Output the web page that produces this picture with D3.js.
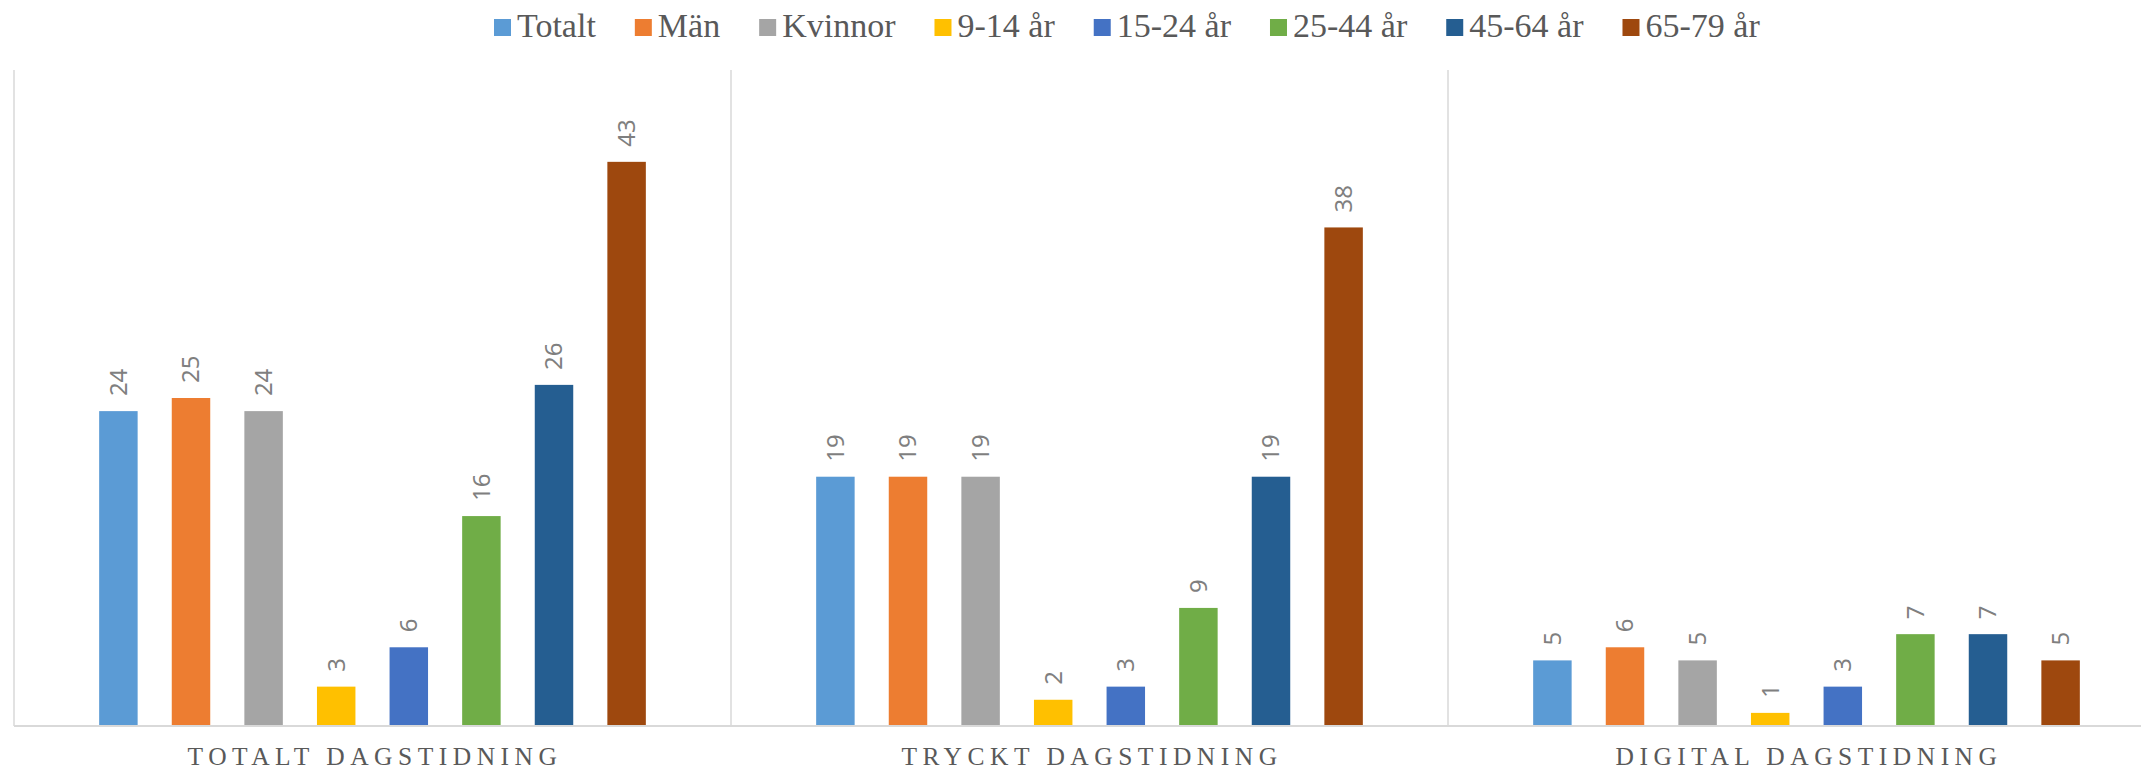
<!DOCTYPE html>
<html>
<head>
<meta charset="utf-8">
<script src="https://cdn.jsdelivr.net/npm/d3@7"></script>
<style>
  body { margin: 0; background: #fff; }
</style>
</head>
<body>
<div id="chart"></div>
<script>
// Chart data
const categories = ["TOTALT DAGSTIDNING", "TRYCKT DAGSTIDNING", "DIGITAL DAGSTIDNING"];
const seriesNames = ["Totalt", "Män", "Kvinnor", "9-14 år", "15-24 år", "25-44 år", "45-64 år", "65-79 år"];
const seriesColors = ["#5B9BD5", "#ED7D31", "#A5A5A5", "#FFC000", "#4472C4", "#70AD47", "#255E91", "#9E480E"];
const totaltValues = [24, 25, 24, 3, 6, 16, 26, 43];
const tryckValues = [19, 19, 19, 2, 3, 9, 19, 38];
const digitalValues = [5, 6, 5, 1, 3, 7, 7, 5];
const valuesByCategory = [totaltValues, tryckValues, digitalValues];

const width = 2141;
const height = 771;
const plot = { left: 14, right: 2165, top: 70, bottom: 726 };

const svg = d3.select("#chart")
    .append("svg")
    .attr("width", width)
    .attr("height", height)
    .style("display", "block");

const x0 = d3.scaleBand()
    .domain(categories)
    .range([plot.left, plot.right])
    .padding(0);

const x1 = d3.scaleBand()
    .domain(seriesNames)
    .range([0, x0.bandwidth()])
    .paddingInner(0.47)
    .paddingOuter(1.173);

const y = d3.scaleLinear()
    .domain([0, 50])
    .range([plot.bottom, plot.top]);

const color = d3.scaleOrdinal()
    .domain(seriesNames)
    .range(seriesColors);

// Vertical separators between categories
svg.append("g")
    .selectAll("line")
    .data(categories)
    .join("line")
    .attr("x1", d => x0(d))
    .attr("x2", d => x0(d))
    .attr("y1", plot.top)
    .attr("y2", plot.bottom)
    .style("stroke", "#d9d9d9")
    .style("stroke-width", 1.5);

// Bars
const groups = svg.append("g")
    .selectAll("g")
    .data(categories)
    .join("g")
    .attr("transform", d => `translate(${x0(d)},0)`);

const cells = groups.selectAll("g")
    .data((d, i) => seriesNames.map((s, j) => ({ series: s, value: valuesByCategory[i][j] })))
    .join("g");

cells.append("rect")
    .attr("x", d => x1(d.series))
    .attr("width", x1.bandwidth())
    .attr("y", d => y(d.value))
    .attr("height", d => y(0) - y(d.value))
    .style("fill", d => color(d.series));

// Rotated value labels
cells.append("text")
    .attr("transform", d => `translate(${x1(d.series) + x1.bandwidth() / 2},${y(d.value) - 15}) rotate(-90)`)
    .attr("dy", "0.35em")
    .attr("text-anchor", "start")
    .style("fill", "#7f7f7f")
    .style("font-family", "'Noto Sans', 'Open Sans', sans-serif")
    .style("font-size", "24px")
    .text(d => d.value);

// Horizontal axis line
svg.append("line")
    .attr("x1", plot.left)
    .attr("x2", plot.right)
    .attr("y1", plot.bottom)
    .attr("y2", plot.bottom)
    .style("stroke", "#d9d9d9")
    .style("stroke-width", 2);

// Category labels
svg.append("g")
    .selectAll("text")
    .data(categories)
    .join("text")
    .attr("x", d => x0(d) + x0.bandwidth() / 2 + 2.5)
    .attr("y", 765)
    .attr("text-anchor", "middle")
    .style("fill", "#595959")
    .style("font-family", "'Liberation Serif', Georgia, serif")
    .style("font-size", "25.5px")
    .style("letter-spacing", "5.5px")
    .text(d => d);

// Legend
const legend = svg.append("g").attr("class", "legend");
let lx = 494;
seriesNames.forEach(s => {
    const item = legend.append("g").attr("transform", `translate(${lx},0)`);
    item.append("rect")
        .attr("x", 0)
        .attr("y", 19)
        .attr("width", 17)
        .attr("height", 17)
        .style("fill", color(s));
    const t = item.append("text")
        .attr("x", 23)
        .attr("y", 37)
        .style("fill", "#595959")
        .style("font-family", "'Liberation Serif', Georgia, serif")
        .style("font-size", "34px")
        .text(s);
    lx += 23 + t.node().getComputedTextLength() + 39;
});
</script>
</body>
</html>
